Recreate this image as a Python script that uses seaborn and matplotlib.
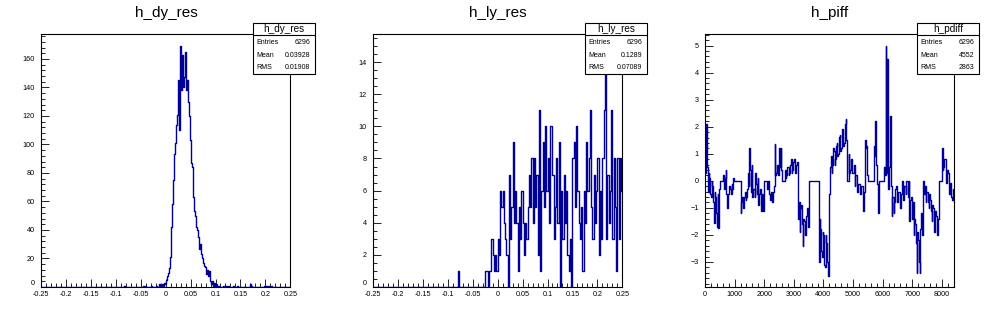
import numpy as np
import pandas as pd
import matplotlib
matplotlib.use("Agg")
import matplotlib.pyplot as plt
import seaborn as sns
from matplotlib.patches import Rectangle
from matplotlib.lines import Line2D
from matplotlib.ticker import MultipleLocator

sns.set_theme(style="white")
plt.rcParams['font.family'] = ['Liberation Sans', 'DejaVu Sans']

LINE = '#000099'

# ---------------- data ----------------
# panel 1: h_dy_res  (bin width 0.002 over [-0.25, 0.25])
dy_sparse_x = [-0.083, -0.045, -0.041, -0.029, -0.019, -0.013, -0.009, -0.007, -0.005, -0.003, -0.001,
               0.117, 0.123, 0.127, 0.137, 0.145, 0.171, 0.173, 0.199, 0.203, 0.207, 0.213]
dy_sparse_n = [1, 1, 1, 1, 1, 2, 1, 2, 1, 3, 2,
               1, 1, 1, 1, 1, 2, 1, 1, 1, 1, 1]
dy_core_start = 0.0   # lower edge of first core bin
dy_core_n = [5, 8, 10, 13, 21, 42, 58, 75, 93, 101,
             114, 121, 145, 110, 169, 138, 163, 140, 147, 165,
             138, 145, 130, 120, 103, 87, 84, 63, 53, 50,
             42, 40, 35, 27, 30, 23, 20, 17, 15, 14,
             9, 12, 8, 11, 4, 2, 4, 1, 3, 0,
             2, 1, 0, 1, 1]

# panel 2: h_ly_res  (bin width 0.0025 over [-0.25, 0.25])
ly_sparse_x = [-0.07875]
ly_sparse_n = [1]
ly_core_start = -0.025
ly_core_n = [1, 1, 0, 1, 1, 3, 2, 1, 2, 1,
             3, 2, 6, 5, 6, 4, 3, 2, 0, 7,
             3, 5, 9, 4, 6, 4, 1, 5, 3, 6,
             4, 2, 4, 3, 5, 7, 5, 8, 4, 8,
             5, 7, 2, 11, 1, 6, 9, 5, 10, 6,
             8, 4, 10, 10, 7, 3, 5, 8, 4, 9,
             0, 6, 3, 7, 4, 6, 2, 1, 3, 0,
             8, 9, 5, 10, 6, 4, 3, 5, 1, 6,
             4, 9, 6, 8, 11, 5, 3, 7, 4, 6,
             8, 2, 6, 3, 8, 11, 15, 3, 7, 4,
             6, 11, 3, 8, 5, 1, 8, 3, 8, 6]

# panel 3: h_piff  (half-bins of 25 over [0, 8450]); first / second half of each 50-wide slot
pd_first = [0.3, 2.1, -0.4, 0.1, -0.6, -0.2, -1.55, -0.6, -1.7, -1.75,
            0, 0, 0.2, -0.3, 0.4, -1.0, -0.4, -0.3, -0.1, 0.1,
            0, 0, 0, 0, -1.2, -0.6, -1.0, -0.4, -0.6, 0.3,
            1.2, -0.4, -0.6, -0.3, 0.3, -0.5, -0.9, -0.3, -1.1, -0.6,
            0, 0, -0.3, -0.2, -0.7, -0.5, -0.4, 1.35, 0.3, 0.6,
            1.2, 1.2, 0, 0, 0.4, 0.2, 0.5, 0.3, 0.8, 0.4,
            0.8, 0.3, 0.7, -1.4, -1.9, -0.9, -2.4, -1.5, -2.0, -1.0,
            0, 0, 0, 0, 0, 0, 0, -3.0, -1.8, -2.8,
            -2.0, -3.2, -2.3, -3.5, -0.5, 0.9, 0.6, 1.1, 0.8, 1.4,
            1.0, 1.7, 1.2, 1.9, 1.4, 2.3, 0, 1.0, 0.4, 0.8,
            0.3, -0.2, 0.2, -0.4, -0.1, -0.5, -0.2, -1.1, 1.5, 1.3,
            0, 0, 0, 0, 1.3, 2.2, 0.1, -1.2, 0, 0,
            0, 0.5, 5.0, 4.5, -0.3, 2.4, -1.3, -0.6, -0.8, -0.2,
            -0.8, -0.4, -1.0, 0, -0.7, -0.2, 0, -0.6, -1.5, -0.6,
            -1.4, -2.0, -1.6, -3.4, -2.2, -3.4, -1.2, 0, -0.5, -0.8,
            -0.4, -1.0, -0.7, -1.5, -1.0, -1.9, -1.3, -2.0, 0, 0,
            1.2, 0.5, 0.8, -0.1, 0.3, -0.5, -0.2, -0.7, -0.4]
pd_second = [0.6, 0.5, 0.3, -0.5, 0, -0.8, -0.4, -1.2, -0.5, -0.3,
             0, 0, 0.1, 0.1, -0.5, -0.5, -0.2, -0.5, -0.3, 0,
             0, 0, 0, 0, -0.8, -1.0, -0.6, -0.7, -0.3, -0.2,
             0.4, 0.6, -0.3, -0.6, -0.1, 0.1, -0.5, -0.8, -0.5, -1.1,
             0, 0, 0, -0.5, -0.4, -0.8, -0.2, 0.2, 0.6, 0.2,
             0.5, 0.4, 0, 0, 0.1, 0.5, 0.2, 0.6, 0.3, 0.7,
             0.4, 0.6, 0.3, -0.8, -1.0, -1.6, -1.4, -2.0, -1.3, -1.7,
             0, 0, 0, 0, 0, 0, 0, -1.4, -2.6, -1.9,
             -3.1, -2.0, -3.0, -2.4, 0.5, 0.3, 1.2, 0.6, 1.3, 0.9,
             1.6, 1.1, 1.9, 1.3, 2.1, 1.5, 0, 0.3, 0.8, 0.3,
             0.6, 0.2, -0.3, -0.1, -0.4, -0.2, -0.7, -0.4, 1.2, 0.2,
             0, 0, 0, 0, 0.9, 0.6, -0.1, 0, 0, 0,
             0, 0.2, 0.3, -0.3, 0.5, -0.2, -0.6, -1.2, -0.3, -0.5,
             -0.4, -0.8, -0.5, 0, -0.2, -0.5, 0, 0, -0.7, -1.2,
             -0.8, -1.4, -2.3, -1.9, -3.0, -1.8, -2.0, 0, -0.2, -0.4,
             -0.8, -0.5, -1.1, -0.9, -1.6, -1.1, -1.8, -1.4, 0, 0,
             0.4, 0.8, 0.3, 0.4, -0.3, -0.1, -0.6, -0.3, -0.8]

titles = ["h_dy_res", "h_ly_res", "h_piff"]
box_titles = ["h_dy_res", "h_ly_res", "h_pdiff"]
stats = [("6296", "0.03928", "0.01908"),
         ("6296", "0.1289", "0.07089"),
         ("6296", "4552", "2863")]

# ---------------- figure ----------------
W, H = 996, 322
fig = plt.figure(figsize=(W / 100, H / 100), dpi=100)
fig.patch.set_facecolor('white')
LW = 1.0


def ax_at(x0, y0, x1, y1):
    return fig.add_axes([x0 / W, 1 - y1 / H, (x1 - x0) / W, (y1 - y0) / H])


def style(ax):
    for s in ax.spines.values():
        s.set_visible(True)
        s.set_color('black')
        s.set_linewidth(0.8)
    ax.set_facecolor('white')
    ax.tick_params(axis='both', which='both', direction='in', bottom=True, left=True,
                   top=False, right=False, colors='black', labelsize=5.2, width=0.6)
    ax.tick_params(axis='both', which='major', length=6)
    ax.tick_params(axis='both', which='minor', length=3)
    ax.tick_params(axis='x', pad=2.8)
    ax.tick_params(axis='y', pad=4.5)
    ax.set_xlabel('')
    ax.set_ylabel('')
    ax.grid(False)


def hist(ax, df, edges):
    sns.histplot(data=df, x='x', weights='w', bins=list(edges), element='step', fill=False,
                 color=LINE, linewidth=LW, ax=ax)


def make_df(sparse_x, sparse_n, core_start, core_n, width):
    core_x = core_start + width * (np.arange(len(core_n)) + 0.5)
    return pd.DataFrame({
        'x': np.concatenate([np.asarray(sparse_x, float), core_x]),
        'w': np.concatenate([np.asarray(sparse_n, float), np.asarray(core_n, float)]),
    })


xt_labels = ["-0.25", "-0.2", "-0.15", "-0.1", "-0.05", "0", "0.05", "0.1", "0.15", "0.2", "0.25"]
xt_vals = [-0.25, -0.2, -0.15, -0.1, -0.05, 0, 0.05, 0.1, 0.15, 0.2, 0.25]

# panel 1
ax1 = ax_at(41, 34, 290.3, 287)
hist(ax1, make_df(dy_sparse_x, dy_sparse_n, dy_core_start, dy_core_n, 0.002),
     np.linspace(-0.25, 0.25, 251))
ax1.set_xlim(-0.25, 0.25)
ax1.set_ylim(0, 177.5)
ax1.set_xticks(xt_vals)
ax1.set_xticklabels(xt_labels)
ax1.xaxis.set_minor_locator(MultipleLocator(0.01))
ax1.yaxis.set_major_locator(MultipleLocator(20))
ax1.yaxis.set_minor_locator(MultipleLocator(4))
style(ax1)

# panel 2
ax2 = ax_at(373, 34, 622.3, 287)
hist(ax2, make_df(ly_sparse_x, ly_sparse_n, ly_core_start, ly_core_n, 0.0025),
     np.linspace(-0.25, 0.25, 201))
ax2.set_xlim(-0.25, 0.25)
ax2.set_ylim(0, 15.75)
ax2.set_xticks(xt_vals)
ax2.set_xticklabels(xt_labels)
ax2.xaxis.set_minor_locator(MultipleLocator(0.01))
ax2.yaxis.set_major_locator(MultipleLocator(2))
ax2.yaxis.set_minor_locator(MultipleLocator(0.5))
style(ax2)

# panel 3
ax3 = ax_at(705, 34, 954.3, 287)
pd_edges = np.arange(0, 8451, 25)
pd_w = np.column_stack([pd_first, pd_second]).ravel()
pd_df = pd.DataFrame({'x': pd_edges[:-1] + 12.5, 'w': pd_w})
hist(ax3, pd_df, pd_edges)
ax3.set_xlim(0, 8420)
ax3.set_ylim(-3.925, 5.425)
ax3.xaxis.set_major_locator(MultipleLocator(1000))
ax3.xaxis.set_minor_locator(MultipleLocator(200))
ax3.yaxis.set_major_locator(MultipleLocator(1))
ax3.yaxis.set_minor_locator(MultipleLocator(0.2))
style(ax3)

# lift the "0" y label of the count panels slightly so it sits above the x labels
for ax in (ax1, ax2):
    fig.canvas.draw()
    for lab in ax.get_yticklabels():
        if lab.get_text() == '0':
            lab.set_verticalalignment('bottom')

# titles and stat boxes
for k, off in enumerate([0, 332, 664]):
    fig.text((166 + off) / W, 1 - 13.5 / H, titles[k], ha='center', va='center',
             fontsize=11, color='black')
    bx0, bx1, by0, by1 = 253 + off, 315 + off, 23, 74
    fig.add_artist(Rectangle((bx0 / W, 1 - by1 / H), (bx1 - bx0) / W, (by1 - by0) / H,
                             transform=fig.transFigure, facecolor='white',
                             edgecolor='black', linewidth=0.8, zorder=5))
    fig.add_artist(Line2D([bx0 / W, bx1 / W], [1 - 35 / H, 1 - 35 / H],
                          transform=fig.transFigure, color='black', linewidth=0.8, zorder=6))
    fig.text((bx0 + bx1) / 2 / W, 1 - 29.5 / H, box_titles[k], ha='center', va='center',
             fontsize=7.2, color='black', zorder=7)
    for label, val, yy in zip(["Entries", "Mean", "RMS"], stats[k], [42.7, 55.7, 67.7]):
        fig.text((bx0 + 3) / W, 1 - yy / H, label, ha='left', va='center',
                 fontsize=5, color='black', zorder=7)
        fig.text((bx1 - 5) / W, 1 - yy / H, val, ha='right', va='center',
                 fontsize=5, color='black', zorder=7)

fig.savefig("out.png", dpi=100, facecolor='white')
